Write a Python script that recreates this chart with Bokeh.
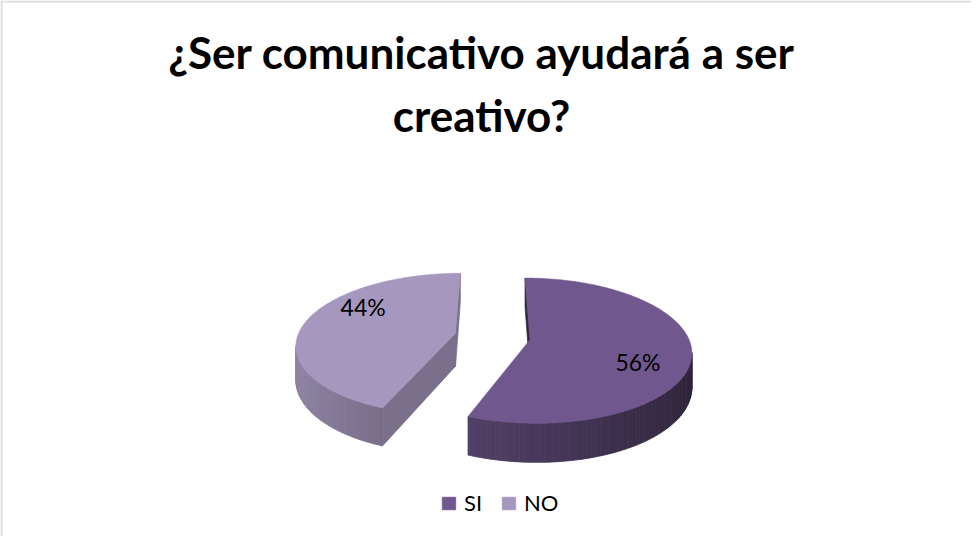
import numpy as np
from bokeh.plotting import figure
from bokeh.models import Range1d, BoxAnnotation, Legend, LegendItem
from bokeh.core.properties import value
from bokeh.embed import file_html
from bokeh.resources import INLINE

# ---------------- data ----------------
TITLE_LINES = ["¿Ser comunicativo ayudará a ser", "creativo?"]
CATEGORIES = ["SI", "NO"]
PERCENTS = [56, 44]
COLORS = ["#70588E", "#A597BD"]
CUT_SHADE = [0.45, 0.74]

# ---------------- layout ----------------
W, H = 971, 536
CX, CY = 500.0, 344.0          # page coords of pie centre
R, B, T = 158.0, 70.0, 33.0    # radius x, radius y, thickness
K = 0.15                       # perspective
EXPLODE = 0.24

p = figure(width=W, height=H, x_range=Range1d(0, W), y_range=Range1d(0, H),
           output_backend="svg", toolbar_location=None,
           x_axis_location=None, y_axis_location=None,
           min_border=0, outline_line_color=None)
p.grid.visible = False
p.background_fill_color = "white"
p.border_fill_color = "white"


def proj(X, Z, Y):
    s = 1.0 / (1.0 + K * Z)
    px0 = CX + R * X
    py0 = CY - B * Z - T * Y
    px = CX + (px0 - CX) * s
    py = CY + (py0 - CY) * s
    return px - 8, H - (py - 8)


def shade(hexc, f):
    h = hexc.lstrip("#")
    r, g, b = (int(h[i:i + 2], 16) for i in (0, 2, 4))
    c = [max(0, min(255, int(round(v * f)))) for v in (r, g, b)]
    return "#%02x%02x%02x" % tuple(c)


def area(xs, ys):
    xs = np.asarray(xs); ys = np.asarray(ys)
    return 0.5 * np.sum(xs * np.roll(ys, -1) - np.roll(xs, -1) * ys)


total = float(sum(PERCENTS))
start = 0.0
legend_items = []
for cat, pct, col, cshade in zip(CATEGORIES, PERCENTS, COLORS, CUT_SHADE):
    t0 = start
    t1 = start + 2 * np.pi * pct / total
    start = t1
    mid = 0.5 * (t0 + t1)
    ex, ez = EXPLODE * np.sin(mid), EXPLODE * np.cos(mid)

    def rim(th, Y):
        return proj(ex + np.sin(th), ez + np.cos(th), Y)

    def cen(Y):
        return proj(ex, ez, Y)

    n = int(np.ceil(np.degrees(t1 - t0) / 1.5)) + 1
    ths = np.linspace(t0, t1, n)

    fx, fy, fc = [], [], []
    # curved side
    for a, b in zip(ths[:-1], ths[1:]):
        pts = [rim(a, 0), rim(b, 0), rim(b, -1), rim(a, -1)]
        xs = [q[0] for q in pts]; ys = [q[1] for q in pts]
        if area(xs, ys) > 0:
            m = 0.5 * (a + b)
            f = 0.64 - 0.235 * np.sin(m)
            c = shade(col, f)
            fx.append(xs); fy.append(ys); fc.append(c)
    # cut faces
    for pts in ([rim(t1, 0), cen(0), cen(-1), rim(t1, -1)],
                [cen(0), rim(t0, 0), rim(t0, -1), cen(-1)]):
        xs = [q[0] for q in pts]; ys = [q[1] for q in pts]
        if area(xs, ys) > 0:
            c = shade(col, cshade)
            fx.append(xs); fy.append(ys); fc.append(c)
    if fx:
        p.patches(xs=fx, ys=fy, fill_color=fc, line_color=fc, line_width=0.8)

    # top face
    top = [cen(0)] + [rim(t, 0) for t in ths]
    r_top = p.patch(x=[q[0] for q in top], y=[q[1] for q in top],
                    fill_color=col, line_color=col, line_width=0.5)
    legend_items.append(LegendItem(label=cat, renderers=[r_top]))

    # data label
    la = mid + np.radians(18)
    lx, ly = proj(ex + 0.72 * np.sin(la), ez + 0.72 * np.cos(la), 0)
    p.text(x=[lx], y=[ly + 4], text=["%d%%" % pct], text_font=value("Lato"),
           text_font_size="23px", text_align="center", text_baseline="middle",
           text_color="#000000")

# title
p.text(x=[481, 481], y=[485, 422], text=TITLE_LINES, text_font=value("Lato"),
       text_font_size="44px", text_font_style="bold", text_align="center",
       text_baseline="alphabetic", text_color="#000000")

legend = Legend(items=legend_items, orientation="horizontal", location=(440, 20),
                border_line_color=None, background_fill_alpha=0,
                glyph_width=17, glyph_height=16, label_standoff=7, spacing=16,
                padding=0, margin=0, label_text_font="Lato",
                label_text_font_size="22px", label_text_color="#000000",
                label_height=16)
p.add_layout(legend)

p.add_layout(BoxAnnotation(left=1, right=W + 60, bottom=-60, top=H - 1,
                           fill_alpha=0, line_color="#8C8C8C", line_width=2))

open("out.html", "w").write(file_html(p, INLINE))
